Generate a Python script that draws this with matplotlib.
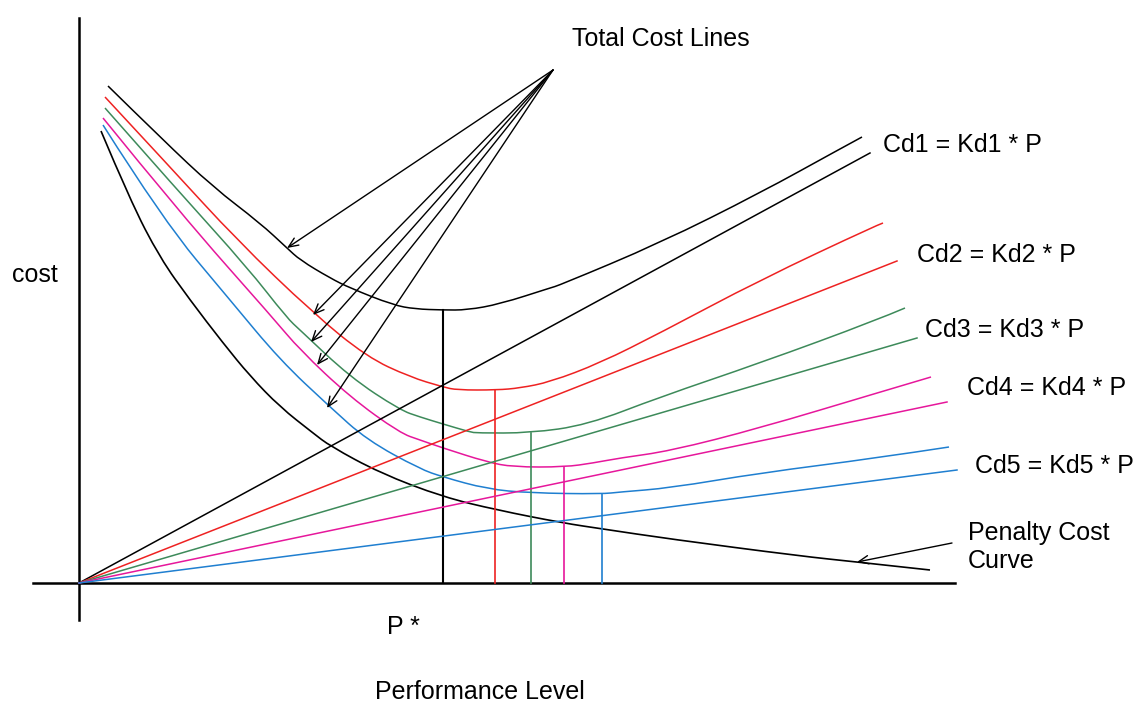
import matplotlib
matplotlib.use("Agg")
import matplotlib.pyplot as plt
from matplotlib.path import Path
from matplotlib.patches import PathPatch

# performance level (P) and cost values
penalty_p = [22, 51, 81, 111, 144, 171, 201, 234, 251, 301, 364, 418, 484, 524, 591, 721, 778, 851]
penalty_c = [452, 383, 325, 283, 240, 207, 176, 150, 137, 110, 86, 73, 60, 54, 44, 27, 21, 13]

total1_p = [29, 84, 134, 181, 208, 221, 251, 271, 314, 336, 364, 388, 421, 471, 481, 581, 681, 759, 783]
total1_c = [497, 443, 396, 360, 335, 323, 305, 295, 278, 274, 273, 273, 279, 295, 298, 340, 390, 433, 446]
total2_p = [26, 91, 158, 234, 288, 331, 364, 378, 418, 441, 471, 521, 581, 681, 798, 804]
total2_c = [486, 416, 343, 270, 226, 206, 196, 193, 193, 195, 201, 220, 250, 303, 358, 360]
total3_p = [26, 101, 168, 208, 221, 271, 321, 341, 364, 391, 398, 451, 508, 581, 681, 798, 826]
total3_c = [475, 390, 316, 265, 253, 206, 173, 166, 159, 151, 150, 150, 158, 186, 220, 263, 275]
total4_p = [24, 101, 194, 221, 271, 321, 341, 364, 408, 434, 486, 514, 541, 591, 681, 798, 852]
total4_c = [465, 370, 265, 233, 186, 150, 143, 135, 121, 116, 116, 120, 125, 132, 155, 190, 206]
total5_p = [24, 84, 151, 201, 251, 288, 341, 364, 408, 451, 523, 541, 591, 681, 798, 870]
total5_c = [458, 363, 283, 223, 176, 143, 114, 106, 94, 90, 89, 91, 95, 110, 125, 136]

# straight cost lines Cd = Kd * P, start at the origin
linear_end_p = [791, 818, 838, 868, 878]
linear_end_c = [430, 322, 245, 181, 113]

# optimum performance levels and the total cost at each
optimum_p = [364, 416, 452, 485, 523]
optimum_c = [273, 193, 150, 116, 89]

# arrow tips on the total cost curves
arrow_tip_p = [208, 234, 232, 238, 248]
arrow_tip_c = [335, 268, 241, 218, 175]

colors = ["black", "#ee2222", "#3d8a5a", "#e6179b", "#1f7fd0"]
labels = ["Cd1 = Kd1 * P", "Cd2 = Kd2 * P", "Cd3 = Kd3 * P", "Cd4 = Kd4 * P", "Cd5 = Kd5 * P"]
label_pos = [(804, 438), (838, 328), (846, 253), (888, 195), (896, 117)]

plt.rcParams["font.family"] = ["Liberation Sans", "DejaVu Sans"]


def smooth_curve(ax, xs, ys, color, lw):
    # hand-drawn look: quadratic bezier pieces with the read points as controls
    verts = [(xs[0], ys[0])]
    codes = [Path.MOVETO]
    for i in range(1, len(xs) - 1):
        mid = ((xs[i] + xs[i + 1]) / 2, (ys[i] + ys[i + 1]) / 2)
        if i == len(xs) - 2:
            mid = (xs[-1], ys[-1])
        verts += [(xs[i], ys[i]), mid]
        codes += [Path.CURVE3, Path.CURVE3]
    ax.add_patch(PathPatch(Path(verts, codes), facecolor="none", edgecolor=color, lw=lw))


fig = plt.figure(figsize=(11.43, 7.04), dpi=100)
ax = fig.add_axes([0, 0, 1, 1])
ax.set_xlim(-79, 1064)
ax.set_ylim(-121, 583)
ax.axis("off")

# axes
ax.plot([0, 0], [-37, 565], color="black", lw=1.8)
ax.plot([-46, 876], [0, 0], color="black", lw=1.8)

totals = [(total1_p, total1_c), (total2_p, total2_c), (total3_p, total3_c),
          (total4_p, total4_c), (total5_p, total5_c)]

for i, color in enumerate(colors):
    tp, tc = totals[i]
    smooth_curve(ax, tp, tc, color, 1.1)
    ax.plot([0, linear_end_p[i]], [0, linear_end_c[i]], color=color, lw=1.1)
    ax.plot([optimum_p[i], optimum_p[i]], [0, optimum_c[i]], color=color,
            lw=1.5 if i == 0 else 1.2)
    ax.text(label_pos[i][0], label_pos[i][1], labels[i], fontsize=18,
            ha="left", va="center")

smooth_curve(ax, penalty_p, penalty_c, "black", 1.2)

# arrows from the "Total Cost Lines" note
for tip_p, tip_c in zip(arrow_tip_p, arrow_tip_c):
    ax.annotate("", xy=(tip_p, tip_c), xytext=(474, 513),
                arrowprops=dict(arrowstyle="->,head_length=0.7,head_width=0.3",
                                color="black", lw=1.0, shrinkA=0, shrinkB=0))

ax.annotate("", xy=(778, 21), xytext=(873, 40),
            arrowprops=dict(arrowstyle="->,head_length=0.7,head_width=0.3",
                            color="black", lw=1.0, shrinkA=0, shrinkB=0))

ax.text(493, 544, "Total Cost Lines", fontsize=18, ha="left", va="center")
ax.text(889, 36, "Penalty Cost\nCurve", fontsize=18, ha="left", va="center",
        linespacing=1.25)
ax.text(-67, 308, "cost", fontsize=18, ha="left", va="center")
ax.text(308, -44, "P *", fontsize=18, ha="left", va="center")
ax.text(296, -109, "Performance Level", fontsize=18, ha="left", va="center")

fig.savefig("out.png", dpi=100)
